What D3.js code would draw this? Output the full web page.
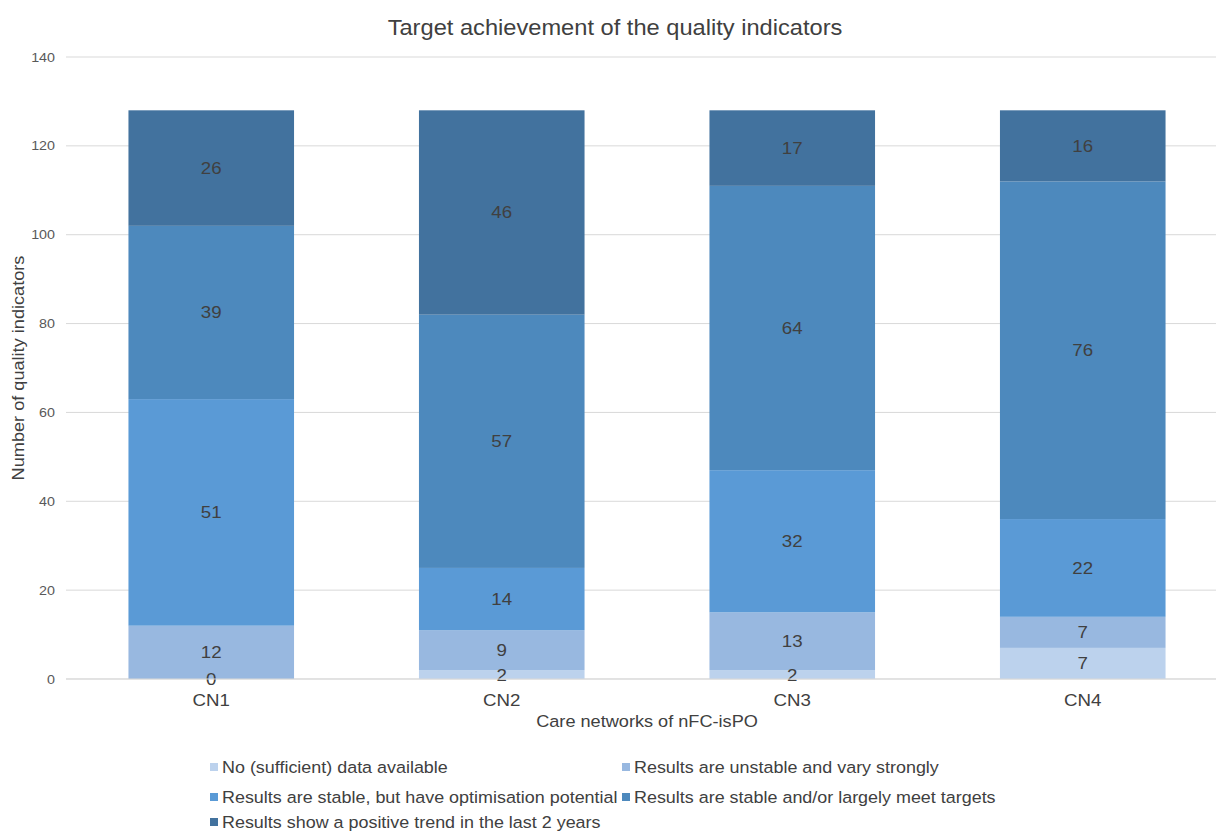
<!DOCTYPE html>
<html>
<head>
<meta charset="utf-8">
<script src="https://cdn.jsdelivr.net/npm/d3@7"></script>
<style>
  html, body { margin: 0; padding: 0; background: #fff; }
  svg { display: block; font-family: "Liberation Sans", Arial, sans-serif; }
</style>
</head>
<body>
<svg id="chart" width="1216" height="832"></svg>
<script>
// Care networks on the x axis
const categories = ["CN1", "CN2", "CN3", "CN4"];

// Series, stacked bottom to top
const seriesNames = [
  "No (sufficient) data available",
  "Results are unstable and vary strongly",
  "Results are stable, but have optimisation potential",
  "Results are stable and/or largely meet targets",
  "Results show a positive trend in the last 2 years"
];
const noData      = [0, 2, 2, 7];
const unstable    = [12, 9, 13, 7];
const optimisable = [51, 14, 32, 22];
const meetTargets = [39, 57, 64, 76];
const positive    = [26, 46, 17, 16];

const yTicks = [0, 20, 40, 60, 80, 100, 120, 140];

const seriesValues = [noData, unstable, optimisable, meetTargets, positive];
const colors = ["#bcd2ed", "#98b8e0", "#5a9ad6", "#4d89bd", "#42729e"];

const svg = d3.select("#chart");
const margin = { left: 66, right: -12, top: 57, bottom: 153 };
const W = 1216, H = 832;
const SX = 1.1; // horizontal stretch of the text glyphs

// place a text at (x, y) with a slightly widened glyph shape
function put(sel, x, y, rot) {
  return sel.attr("transform", `translate(${x},${y})${rot ? ` rotate(${rot})` : ""} scale(${SX},1)`);
}

const x = d3.scaleBand()
  .domain(categories)
  .range([margin.left, W - margin.right])
  .paddingInner(0.43)
  .paddingOuter(0.215);

const y = d3.scaleLinear()
  .domain([0, 140])
  .range([H - margin.bottom, margin.top]);

// Build stack rows
const rows = categories.map((c, i) => {
  const r = { cat: c };
  seriesNames.forEach((s, k) => { r[s] = seriesValues[k][i]; });
  return r;
});
const stacked = d3.stack().keys(seriesNames)(rows);

// Gridlines
svg.append("g")
  .selectAll("line")
  .data(yTicks)
  .join("line")
  .attr("x1", margin.left)
  .attr("x2", W)
  .attr("y1", d => y(d))
  .attr("y2", d => y(d))
  .attr("stroke", "#d9d9d9")
  .attr("stroke-width", 1);

// Y tick labels
svg.append("g")
  .selectAll("text")
  .data(yTicks)
  .join("text")
  .each(function (d) { put(d3.select(this), 55, y(d)); })
  .attr("dy", "0.35em")
  .attr("text-anchor", "end")
  .attr("font-size", 13)
  .attr("fill", "#595959")
  .text(d => d);

// Bars
const layers = svg.append("g")
  .selectAll("g")
  .data(stacked)
  .join("g")
  .attr("fill", (d, i) => colors[i]);

layers.selectAll("rect")
  .data(d => d)
  .join("rect")
  .attr("x", d => x(d.data.cat))
  .attr("width", x.bandwidth())
  .attr("y", d => y(d[1]))
  .attr("height", d => y(d[0]) - y(d[1]));

// Value labels centred in each segment
const labels = svg.append("g");
stacked.forEach(layer => {
  layer.forEach(d => {
    put(labels.append("text"), x(d.data.cat) + x.bandwidth() / 2, y((d[0] + d[1]) / 2))
      .attr("dy", "0.35em")
      .attr("text-anchor", "middle")
      .attr("font-size", 17)
      .attr("fill", "#404040")
      .text(d[1] - d[0]);
  });
});

// Baseline axis
svg.append("line")
  .attr("x1", margin.left).attr("x2", W)
  .attr("y1", y(0)).attr("y2", y(0))
  .attr("stroke", "#d9d9d9");

// X category labels
svg.append("g")
  .selectAll("text")
  .data(categories)
  .join("text")
  .each(function (d) { put(d3.select(this), x(d) + x.bandwidth() / 2, y(0) + 21); })
  .attr("dy", "0.35em")
  .attr("text-anchor", "middle")
  .attr("font-size", 17)
  .attr("fill", "#404040")
  .text(d => d);

// Title
put(svg.append("text"), 615, 27)
  .attr("dy", "0.35em")
  .attr("text-anchor", "middle")
  .attr("font-size", 21.5)
  .attr("fill", "#404040")
  .text("Target achievement of the quality indicators");

// Axis titles
put(svg.append("text"), 647, 721)
  .attr("dy", "0.35em")
  .attr("text-anchor", "middle")
  .attr("font-size", 16.5)
  .attr("fill", "#404040")
  .text("Care networks of nFC-isPO");

put(svg.append("text"), 18, 368, -90)
  .attr("dy", "0.35em")
  .attr("text-anchor", "middle")
  .attr("font-size", 16.5)
  .attr("fill", "#404040")
  .text("Number of quality indicators");

// Legend
const legendPos = [
  [210, 767], [622, 767],
  [210, 797], [622, 797],
  [210, 822]
];
const legend = svg.append("g")
  .selectAll("g")
  .data(seriesNames)
  .join("g")
  .attr("transform", (d, i) => `translate(${legendPos[i][0]},${legendPos[i][1]})`);
legend.append("rect")
  .attr("x", 0).attr("y", -4)
  .attr("width", 8).attr("height", 8)
  .attr("fill", (d, i) => colors[i]);
legend.append("text")
  .attr("transform", `translate(12,0) scale(${SX},1)`)
  .attr("dy", "0.35em")
  .attr("font-size", 16.3)
  .attr("fill", "#404040")
  .text(d => d);
</script>
</body>
</html>
